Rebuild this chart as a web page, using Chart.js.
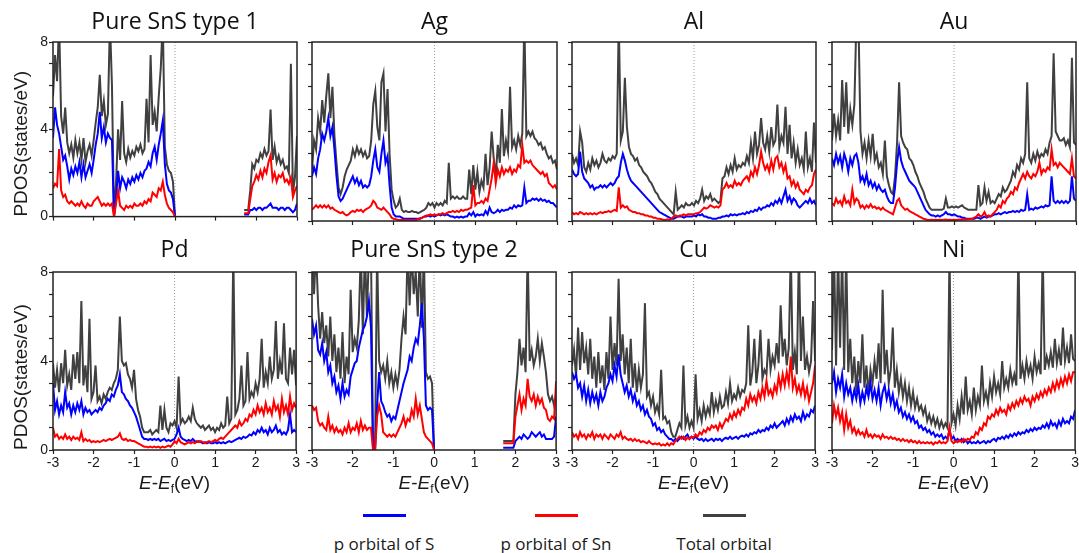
<!DOCTYPE html>
<html>
<head>
<meta charset="utf-8">
<script src="https://cdn.jsdelivr.net/npm/chart.js@4.4.0/dist/chart.umd.min.js"></script>
<style>
  body { margin: 0; width: 1079px; height: 553px; overflow: hidden; background: #fff; position: relative; }
  canvas { position: absolute; }
  .key { position: absolute; top: 505px; width: 140px; text-align: center; }
  .swatch { display: block; width: 43px; height: 3px; margin: 9px auto 0; }
  .lbl { display: block; margin-top: 17px; font: 17px/20px "Open Sans", sans-serif; color: #1a1a1a; white-space: nowrap; }
</style>
</head>
<body>
<div id="legend"></div>
<script>
// energy grid E-Ef (eV), shared by all panels
const energy = [
  -3,-2.95,-2.9,-2.85,-2.8,-2.75,-2.7,-2.65,-2.6,-2.55,
  -2.5,-2.45,-2.4,-2.35,-2.3,-2.25,-2.2,-2.15,-2.1,-2.05,
  -2,-1.95,-1.9,-1.85,-1.8,-1.75,-1.7,-1.65,-1.6,-1.55,
  -1.5,-1.45,-1.4,-1.35,-1.3,-1.25,-1.2,-1.15,-1.1,-1.05,
  -1,-0.95,-0.9,-0.85,-0.8,-0.75,-0.7,-0.65,-0.6,-0.55,
  -0.5,-0.45,-0.4,-0.35,-0.3,-0.25,-0.2,-0.15,-0.1,-0.05,
  0,0.05,0.1,0.15,0.2,0.25,0.3,0.35,0.4,0.45,
  0.5,0.55,0.6,0.65,0.7,0.75,0.8,0.85,0.9,0.95,
  1,1.05,1.1,1.15,1.2,1.25,1.3,1.35,1.4,1.45,
  1.5,1.55,1.6,1.65,1.7,1.75,1.8,1.85,1.9,1.95,
  2,2.05,2.1,2.15,2.2,2.25,2.3,2.35,2.4,2.45,
  2.5,2.55,2.6,2.65,2.7,2.75,2.8,2.85,2.9,2.95,
  3
];
const xTicks = [-3, -2, -1, 0, 1, 2, 3];
const yTicks = [0, 4, 8];
const panelNames = ['Pure SnS type 1', 'Ag', 'Al', 'Au', 'Pd', 'Pure SnS type 2', 'Cu', 'Ni'];
const seriesNames = ['p orbital of S', 'p orbital of Sn', 'Total orbital'];
const seriesColors = ['#0000ff', '#ff0000', '#404040'];

// ---- Pure SnS type 1 ----
const sSnS1 = [
  3.6,5.0,4.2,3.8,3.2,2.6,2.8,2.3,1.7,2.2,
  1.9,2.3,2.0,2.5,1.8,2.4,1.8,2.1,2.4,2.0,
  2.6,3.3,3.8,4.8,3.6,4.1,3.4,3.8,3.6,3.5,
  0,0.8,2.1,1.3,1.8,1.6,1.3,1.7,1.5,1.8,
  1.6,1.9,1.7,2.0,1.8,2.1,2.2,2.5,2.3,2.9,
  3.2,2.6,3.3,3.8,4.4,2.4,1.5,1.2,1.1,0.8,
  0,null,null,null,null,null,null,null,null,null,
  null,null,null,null,null,null,null,null,null,null,
  null,null,null,null,null,null,null,null,null,null,
  null,null,null,null,0.1,0.1,0.1,0.3,0.3,0.4,
  0.3,0.4,0.4,0.3,0.4,0.4,0.5,0.6,0.4,0.4,
  0.4,0.3,0.4,0.4,0.3,0.4,0.4,0.3,0.2,0.3,
  0.6
];
const snSnS1 = [
  1.3,1.5,1.4,3.1,1.2,0.9,1.0,0.7,0.6,0.7,
  0.6,0.5,0.6,0.5,0.7,0.5,0.4,0.6,0.5,0.5,
  0.7,0.8,0.9,0.7,0.5,0.6,0.5,0.6,0.5,0.6,
  0,0.6,1.2,0.5,0.4,0.3,0.5,0.4,0.5,0.4,
  0.6,0.5,0.5,0.6,0.5,0.7,0.6,0.8,0.7,1.1,
  1.0,0.9,1.3,1.2,1.6,1.0,0.6,0.4,0.3,0.2,
  0,null,null,null,null,null,null,null,null,null,
  null,null,null,null,null,null,null,null,null,null,
  null,null,null,null,null,null,null,null,null,null,
  null,null,null,null,0.15,0.15,0.15,0.8,1.4,1.6,
  1.9,1.7,2.1,1.8,2.2,2.0,2.5,2.8,1.7,2.0,
  1.6,1.9,1.8,2.0,1.6,1.7,1.5,1.8,0.9,1.2,
  1.4
];
const totSnS1 = [
  5.5,7.4,6.2,9,4.6,3.8,5.0,3.4,2.9,3.3,
  2.7,3.5,2.9,3.4,2.6,3.6,2.5,3.0,3.3,2.8,
  3.5,4.3,5.0,6.5,4.6,5.3,4.2,4.7,9,6.0,
  0,1.5,4.0,2.6,5.3,2.9,2.5,3.1,2.7,3.0,
  2.8,3.2,3.0,3.3,2.9,3.1,5.4,3.4,7.4,4.2,
  4.8,3.9,5.5,6.8,9,3.2,2.4,2.1,2.0,1.6,
  0,null,null,null,null,null,null,null,null,null,
  null,null,null,null,null,null,null,null,null,null,
  null,null,null,null,null,null,null,null,null,null,
  null,null,null,null,0.3,0.3,0.3,1.2,2.4,2.2,
  2.6,2.5,2.9,2.7,3.1,2.8,3.0,4.9,2.6,3.2,
  2.5,2.8,2.4,2.6,2.2,2.3,2.0,7.0,1.1,1.8,
  3.7
];

// ---- Ag ----
const sAg = [
  2.0,2.4,2.1,2.8,3.2,3.9,3.6,4.0,4.6,3.8,
  4.2,3.2,2.0,1.1,0.9,1.0,1.2,1.4,1.6,1.8,
  2.0,1.7,1.9,1.6,1.8,1.5,1.6,1.5,1.6,2.0,
  2.7,3.2,2.4,2.2,3.0,3.6,2.6,2.9,1.6,0.6,
  0.3,0.2,0.2,0.2,0.15,0.1,0.1,0.1,0.1,0.1,
  0.1,0.1,0.1,0.12,0.15,0.2,0.2,0.25,0.2,0.25,
  0.2,0.25,0.3,0.25,0.3,0.25,0.3,0.25,0.2,0.2,
  0.15,0.2,0.15,0.2,0.15,0.2,0.2,0.35,0.25,0.4,
  0.2,0.3,0.25,0.3,0.25,0.45,0.3,0.6,0.4,0.35,
  0.4,0.5,0.4,0.5,0.45,0.5,0.5,0.6,0.55,0.7,
  0.6,0.7,0.65,0.7,1.5,0.8,0.9,0.9,1.0,0.95,
  1.0,0.9,1.0,0.9,0.95,0.85,0.9,0.8,0.8,0.7,
  0.6
];
const snAg = [
  0.5,0.6,0.7,0.6,0.7,0.6,0.7,0.6,0.7,0.55,
  0.6,0.5,0.45,0.4,0.35,0.4,0.3,0.25,0.3,0.4,
  0.45,0.4,0.5,0.45,0.5,0.4,0.5,0.55,0.6,0.7,
  0.9,0.8,0.6,0.55,0.5,0.6,0.5,0.4,0.3,0.15,
  0.1,0.08,0.06,0.05,0.05,0.05,0.05,0.05,0.05,0.05,
  0.05,0.05,0.08,0.1,0.15,0.2,0.25,0.25,0.3,0.25,
  0.3,0.25,0.3,0.3,0.35,0.3,0.35,0.4,0.4,0.45,
  0.4,0.45,0.4,0.5,0.45,0.5,0.5,0.55,0.6,1.6,
  0.7,0.8,0.8,0.9,0.8,1.0,0.9,1.4,1.9,2.6,
  1.7,2.3,2.0,2.4,2.1,2.3,2.2,2.4,2.1,2.3,
  2.2,2.5,2.4,3.4,2.6,2.7,2.6,2.7,2.5,2.4,
  2.3,2.2,2.1,2.2,2.0,2.1,1.7,1.6,1.5,1.6,
  1.4
];
const totAg = [
  2.3,3.6,3.2,4.6,4.0,5.4,4.4,5.6,6.6,4.6,
  6.0,3.8,2.6,1.5,1.2,1.5,2.0,2.3,2.5,2.7,
  3.2,2.9,3.3,3.0,3.2,2.9,3.1,2.8,2.9,3.6,
  5.2,5.8,4.2,3.6,6.2,6.6,4.0,5.9,3.0,1.4,
  0.9,0.6,0.7,1.0,0.5,0.4,0.45,0.4,0.4,0.45,
  0.4,0.4,0.35,0.4,0.45,0.5,0.6,0.8,0.7,0.8,
  0.6,0.8,0.7,0.8,0.7,0.9,0.8,2.6,1.0,1.1,
  1.0,1.1,1.0,1.0,1.1,1.0,1.0,2.3,1.2,2.5,
  1.4,2.2,1.3,1.8,1.5,3.0,1.6,2.4,4.0,2.8,
  2.0,3.4,2.6,5.0,2.9,3.6,3.1,6.0,3.3,3.6,
  3.2,3.8,3.4,3.9,9,3.8,4.0,3.8,4.0,3.7,
  3.6,3.4,3.5,3.2,3.3,3.0,2.8,2.9,2.6,2.7,
  2.3
];

// ---- Al ----
const sAl = [
  2.3,2.1,2.0,2.1,3.1,2.2,1.9,1.8,1.7,1.5,
  1.6,1.4,1.5,1.5,1.6,1.5,1.6,1.5,1.6,1.7,
  1.6,1.7,1.9,2.0,2.6,3.0,2.7,2.3,2.0,1.8,
  1.7,1.6,1.5,1.4,1.3,1.2,1.1,1.0,0.9,0.8,
  0.7,0.6,0.5,0.4,0.35,0.3,0.25,0.2,0.15,0.1,
  0.1,0.15,0.2,0.2,0.2,0.15,0.2,0.2,0.2,0.2,
  0.25,0.2,0.3,0.25,0.3,0.2,0.2,0.15,0.15,0.1,
  0.1,0.1,0.15,0.15,0.2,0.2,0.25,0.2,0.3,0.25,
  0.3,0.25,0.3,0.3,0.35,0.3,0.4,0.35,0.45,0.4,
  0.5,0.45,0.6,0.5,0.6,0.6,0.7,0.65,0.8,0.7,
  0.9,0.8,1.0,0.8,1.1,1.4,0.9,1.1,0.8,1.0,
  0.9,0.7,0.6,0.7,0.8,0.9,0.8,1.0,0.8,0.9,
  0.7
];
const snAl = [
  0.4,0.3,0.35,0.3,0.4,0.35,0.3,0.35,0.3,0.35,
  0.3,0.35,0.3,0.35,0.4,0.35,0.4,0.4,0.45,0.4,
  0.45,0.5,0.45,1.5,0.6,0.7,0.6,0.65,0.5,0.45,
  0.4,0.4,0.35,0.35,0.3,0.3,0.25,0.25,0.2,0.2,
  0.15,0.15,0.1,0.1,0.08,0.05,0.05,0.08,0.05,0.1,
  0.2,0.25,0.2,0.25,0.25,0.3,0.25,0.3,0.3,0.3,
  0.3,0.35,0.35,0.4,0.5,0.6,0.55,0.6,0.7,0.65,
  0.6,0.65,0.6,0.7,1.4,1.5,1.7,1.5,1.6,1.5,
  1.8,1.6,1.7,1.6,1.8,1.9,2.0,1.8,2.2,2.0,
  2.4,2.1,2.5,3.1,2.6,2.3,2.5,2.2,2.7,2.3,
  2.8,2.9,2.4,2.6,2.2,2.5,1.9,2.0,1.6,1.8,
  1.5,1.7,1.4,1.3,1.2,1.4,1.3,1.5,1.6,2.1,
  2.3
];
const totAl = [
  3.0,2.6,2.8,2.5,4.0,3.5,2.4,2.2,2.6,2.3,
  2.8,2.5,2.7,2.4,2.6,3.0,2.7,2.6,2.8,2.7,
  2.9,2.8,3.0,9,3.6,4.0,6.4,4.2,3.3,3.0,
  2.9,2.7,2.8,2.5,2.4,2.2,2.1,2.0,1.8,1.7,
  1.5,1.3,1.2,1.0,0.9,0.8,0.7,0.6,0.5,0.4,
  0.3,1.3,0.5,0.6,0.7,0.6,0.8,0.7,0.7,0.8,
  0.7,0.9,0.8,1.0,1.4,0.9,1.1,1.0,1.2,0.9,
  1.0,0.9,0.8,0.9,1.9,2.0,2.4,2.1,2.5,2.2,
  2.8,2.3,2.5,2.4,2.6,2.5,2.9,2.6,3.5,2.8,
  4.0,3.0,3.4,4.6,3.5,3.2,3.8,3.1,4.2,3.4,
  3.6,5.2,3.3,3.8,3.5,5.1,3.0,4.3,2.8,3.5,
  2.6,3.2,2.5,2.8,2.3,4.0,2.4,2.8,2.2,4.4,
  2.6
];

// ---- Au ----
const sAu = [
  2.8,2.5,3.0,2.6,2.9,2.4,3.0,2.7,2.2,2.8,
  2.5,2.9,3.0,2.6,1.8,2.0,1.7,2.1,1.6,1.8,
  1.5,1.7,1.4,1.6,1.4,1.3,1.4,1.1,0.9,0.8,
  0.8,1.5,2.6,3.3,2.7,2.4,2.2,2.0,1.8,1.7,
  1.6,1.5,1.3,1.1,0.9,0.7,0.5,0.4,0.3,0.25,
  0.25,0.2,0.25,0.2,0.25,0.3,0.4,0.3,0.3,0.25,
  0.3,0.25,0.2,0.2,0.15,0.15,0.1,0.1,0.1,0.1,
  0.1,0.15,0.15,0.1,0.15,0.2,0.15,0.2,0.2,0.25,
  0.3,0.3,0.35,0.3,0.35,0.4,0.35,0.4,0.4,0.45,
  0.4,0.45,0.4,0.5,0.45,0.5,1.2,0.5,0.55,0.5,
  0.6,0.55,0.6,0.65,0.6,0.7,0.65,0.7,2.0,0.9,
  0.8,0.9,0.8,0.9,0.8,0.9,0.8,0.9,2.0,1.0,
  0.9
];
const snAu = [
  0.8,0.7,1.0,0.8,0.9,0.7,1.1,0.8,0.9,0.7,
  1.4,0.8,1.0,0.9,0.6,0.7,0.55,0.7,0.6,0.75,
  0.6,0.65,0.55,0.6,0.5,0.6,0.5,0.45,0.4,0.35,
  0.3,0.6,0.9,1.0,0.7,0.6,0.5,0.55,0.45,0.4,
  0.35,0.3,0.25,0.2,0.15,0.1,0.08,0.05,0.05,0.06,
  0.05,0.06,0.05,0.06,0.05,0.06,0.07,0.05,0.06,0.05,
  0.06,0.05,0.06,0.07,0.06,0.08,0.07,0.08,0.09,0.1,
  0.15,0.2,0.3,0.2,0.25,0.4,0.2,0.25,0.2,0.3,
  0.4,0.5,0.7,0.6,0.9,0.8,1.0,1.1,1.3,1.2,
  1.5,1.4,1.7,1.9,2.1,1.9,2.2,2.0,1.9,2.1,
  2.0,2.2,2.6,2.1,2.3,2.2,2.4,2.3,3.2,2.5,
  2.6,2.4,2.6,2.5,2.4,2.3,2.2,2.1,2.8,2.0,
  1.9
];
const totAu = [
  3.6,4.8,3.8,4.5,3.6,6.3,4.2,6.2,3.9,5.0,
  4.3,5.2,9,9,4.0,3.0,3.5,2.8,3.6,2.9,
  3.9,2.7,3.0,2.4,2.6,2.1,3.6,2.0,1.6,1.3,
  1.2,2.0,3.5,6.2,3.8,3.5,3.3,3.2,2.8,2.7,
  2.5,2.2,2.0,1.7,1.5,1.3,1.0,0.8,0.6,0.5,
  0.5,0.5,0.5,0.5,0.5,0.55,1.0,0.6,0.6,0.65,
  0.6,0.65,0.6,0.65,0.7,0.6,0.55,0.5,0.5,0.5,
  0.5,0.5,1.6,0.7,0.8,1.5,0.9,1.3,0.8,0.9,
  0.8,1.0,1.2,1.1,1.5,1.3,1.4,1.6,1.8,2.2,
  2.0,2.5,2.3,2.8,2.6,3.0,6.2,2.8,2.6,3.0,
  2.7,3.1,2.8,3.0,2.9,3.2,3.0,3.5,3.8,7.5,
  4.0,3.8,3.6,3.6,3.7,3.4,3.6,3.3,7.3,3.5,
  3.4
];

// ---- Pd ----
const sPd = [
  3.0,1.8,2.2,1.6,2.0,1.7,2.6,1.9,2.1,1.6,
  2.0,1.7,2.1,1.8,2.2,1.6,1.9,1.7,1.8,1.6,
  1.7,1.8,1.7,1.9,1.8,2.0,2.1,2.3,2.2,2.5,
  2.4,2.7,2.9,3.4,2.6,2.5,2.3,2.2,2.0,1.9,
  1.7,1.5,1.2,0.9,0.6,0.5,0.5,0.45,0.5,0.45,
  0.5,0.45,0.5,0.4,0.45,0.5,0.4,0.45,0.4,0.45,
  0.5,0.7,1.0,0.6,0.5,0.45,0.4,0.45,0.4,0.5,
  0.4,0.35,0.4,0.35,0.3,0.35,0.3,0.35,0.3,0.3,
  0.35,0.3,0.35,0.3,0.35,0.3,0.35,0.4,0.35,0.4,
  0.45,0.5,0.55,0.5,0.6,0.55,0.6,0.7,0.65,0.8,
  0.7,0.9,0.8,1.0,0.8,0.9,0.7,1.0,0.8,0.9,
  1.1,0.8,0.9,0.7,0.8,0.7,0.9,1.6,0.8,0.9,
  0.8
];
const snPd = [
  1.0,0.6,0.7,0.5,0.6,0.5,0.7,0.5,0.6,0.45,
  0.6,0.5,0.55,0.45,0.8,0.4,0.5,0.4,0.45,0.35,
  0.4,0.35,0.4,0.35,0.4,0.45,0.4,0.45,0.5,0.45,
  0.5,0.55,0.6,0.75,0.5,0.45,0.5,0.4,0.45,0.4,
  0.4,0.35,0.3,0.25,0.2,0.15,0.15,0.12,0.15,0.12,
  0.15,0.12,0.15,0.1,0.15,0.12,0.15,0.2,0.15,0.25,
  0.4,0.3,0.5,0.35,0.3,0.25,0.3,0.35,0.3,0.35,
  0.3,0.4,0.35,0.4,0.35,0.3,0.35,0.4,0.35,0.4,
  0.45,0.4,0.5,0.55,0.5,0.6,0.7,0.8,0.9,1.0,
  1.1,1.0,1.3,1.1,1.2,1.4,1.3,1.6,1.5,1.8,
  1.6,2.0,1.7,1.9,1.6,2.1,1.7,1.9,1.6,2.2,
  1.8,2.0,1.5,2.3,1.7,2.0,1.6,2.4,1.8,2.1,
  1.9
];
const totPd = [
  3.9,2.8,3.6,2.6,3.9,3.0,4.5,2.9,3.4,2.7,
  4.3,3.2,4.4,3.0,6.7,2.9,3.8,2.6,5.9,2.3,
  2.6,3.8,2.2,2.4,2.1,2.5,2.3,2.6,2.8,2.7,
  3.0,3.2,3.6,6.0,4.0,3.8,3.9,3.4,3.2,2.8,
  3.6,2.3,1.8,1.5,1.0,0.8,0.8,0.8,0.9,0.7,
  0.8,0.9,0.8,2.0,0.9,1.8,1.0,0.8,1.2,1.1,
  1.3,1.0,3.3,1.2,1.4,1.2,1.3,1.5,1.3,1.9,
  1.4,1.2,1.1,1.0,1.1,0.9,1.0,1.1,0.9,1.0,
  0.8,1.0,0.9,1.2,1.0,1.1,2.4,1.2,1.4,9,
  1.6,1.8,2.3,3.8,2.0,2.2,4.4,2.3,2.6,2.4,
  3.0,2.6,3.2,5.0,2.8,3.5,3.0,4.2,3.2,3.6,
  5.8,3.2,4.0,3.4,5.7,3.2,3.0,4.6,3.4,4.5,
  2.9
];

// ---- Pure SnS type 2 ----
const sSnS2 = [
  5.9,5.2,5.6,4.5,4.3,4.8,4.0,4.4,3.5,3.8,
  3.0,3.3,2.6,2.9,2.3,3.0,2.4,2.7,2.5,3.3,
  3.6,3.9,4.0,4.6,5.0,5.4,5.6,6.0,6.7,5.5,
  0,0,2.0,3.5,2.2,2.0,1.7,1.5,1.6,1.3,
  1.5,1.4,1.8,2.2,2.6,3.0,3.3,3.6,4.2,4.0,
  4.6,5.0,4.8,5.6,6.6,5.0,2.0,1.8,1.9,1.8,
  0,null,null,null,null,null,null,null,null,null,
  null,null,null,null,null,null,null,null,null,null,
  null,null,null,null,null,null,null,null,null,null,
  null,null,null,null,0.1,0.1,0.1,0.1,0.1,0.1,
  0.4,0.5,0.6,0.5,0.7,0.6,0.5,0.6,0.8,0.7,
  0.6,0.7,0.8,0.6,0.7,0.5,0.5,0.5,0.5,0.6,
  1.5
];
const snSnS2 = [
  2.0,1.8,1.9,1.3,1.1,1.2,1.0,0.9,1.5,0.9,
  1.1,0.8,1.0,0.8,0.9,0.7,1.0,0.8,1.2,0.8,
  1.0,0.9,1.2,0.8,1.3,0.9,1.1,0.9,1.0,1.0,
  0,0,1.5,2.0,1.6,0.8,0.7,0.6,0.7,0.6,
  0.7,0.6,0.8,1.0,1.2,1.5,1.1,1.4,1.3,1.8,
  1.5,2.3,1.6,2.0,1.4,0.8,0.6,0.5,0.4,0.3,
  0,null,null,null,null,null,null,null,null,null,
  null,null,null,null,null,null,null,null,null,null,
  null,null,null,null,null,null,null,null,null,null,
  null,null,null,null,0.3,0.3,0.3,0.3,0.3,0.3,
  1.5,2.0,2.5,1.8,2.3,2.0,3.2,2.4,2.2,2.5,
  2.0,2.4,2.1,2.3,1.9,1.8,1.4,1.3,1.5,1.4,
  3.1
];
const totSnS2 = [
  9,7.0,9,6.5,5.0,6.2,4.8,5.6,4.2,6.0,
  4.0,5.2,3.5,4.6,3.2,5.3,3.0,4.2,3.4,7.2,
  4.4,5.0,4.6,5.8,9,5.2,9,6.0,9,9,
  0,0,9,4.0,3.5,3.8,3.2,4.0,3.0,3.5,
  2.8,3.4,2.9,3.6,5.0,6.0,5.2,9,6.5,9,
  7.0,8.0,6.0,9,5.5,9,3.5,3.2,3.3,3.0,
  0,null,null,null,null,null,null,null,null,null,
  null,null,null,null,null,null,null,null,null,null,
  null,null,null,null,null,null,null,null,null,null,
  null,null,null,null,0.4,0.4,0.4,0.4,0.4,0.4,
  2.5,3.5,5.0,3.8,4.6,3.5,9,4.0,4.5,3.8,
  4.2,5.0,4.0,4.8,4.2,3.5,2.5,2.2,2.4,2.0,
  2.5
];

// ---- Cu ----
const sCu = [
  3.5,3.2,3.4,2.8,3.0,2.4,2.9,2.2,2.7,2.1,
  2.6,2.2,2.5,2.0,2.6,2.2,2.4,2.8,3.0,3.4,
  3.1,3.8,3.3,4.3,3.4,3.0,2.6,2.9,2.4,2.7,
  2.2,2.5,2.0,2.2,1.8,2.0,1.6,1.8,1.5,1.4,
  1.1,1.2,0.9,1.0,0.8,0.9,0.7,0.6,0.5,0.5,
  0.4,0.5,0.4,0.5,0.6,0.5,0.6,0.7,0.5,0.6,
  0.5,0.6,0.5,0.45,0.5,0.4,0.5,0.4,0.45,0.5,
  0.4,0.5,0.45,0.5,0.4,0.5,0.55,0.5,0.6,0.5,
  0.55,0.6,0.5,0.6,0.65,0.6,0.7,0.6,0.75,0.7,
  0.8,0.75,0.9,0.8,0.9,0.85,1.0,0.9,1.1,1.0,
  1.2,1.0,1.1,1.2,1.3,1.1,1.4,1.2,1.5,1.3,
  1.6,1.4,1.5,1.3,1.7,1.4,1.6,1.5,1.8,1.7,
  2.0
];
const snCu = [
  0.8,0.6,0.7,0.5,0.8,0.6,0.7,0.5,0.7,0.6,
  0.8,0.5,0.7,0.6,0.7,0.5,0.7,0.6,0.5,0.7,
  0.6,0.5,0.7,0.6,0.8,0.5,0.6,0.5,0.45,0.5,
  0.4,0.5,0.4,0.45,0.35,0.4,0.35,0.3,0.4,0.3,
  0.25,0.3,0.25,0.3,0.2,0.25,0.2,0.3,0.2,0.3,
  0.25,0.4,0.5,0.6,0.5,0.6,0.45,0.55,0.5,0.6,
  0.55,0.7,0.6,0.8,0.7,0.9,0.8,1.0,0.9,1.1,
  1.0,1.1,0.9,1.2,1.0,1.2,1.4,1.3,1.6,1.4,
  1.7,1.5,1.8,1.6,1.9,1.8,2.3,2.0,2.5,2.2,
  2.4,2.1,2.6,2.3,2.8,2.4,3.1,2.5,2.7,2.4,
  2.9,2.6,3.3,2.8,3.4,2.9,3.5,3.0,4.2,2.8,
  3.2,2.6,2.9,2.5,3.0,2.4,2.8,2.2,2.6,3.0,
  3.8
];
const totCu = [
  3.8,4.5,3.3,5.5,3.6,5.3,3.9,4.6,3.4,5.0,
  3.2,4.2,2.8,4.4,3.0,3.8,2.7,4.4,3.2,6.0,
  3.6,4.8,3.8,7.7,4.0,5.2,3.4,4.6,3.0,5.0,
  2.8,3.9,2.6,3.6,2.8,3.4,6.6,2.4,2.6,2.0,
  2.4,1.7,2.0,1.6,3.6,1.4,1.5,1.2,1.3,0.8,
  0.6,0.6,0.9,1.2,1.0,3.8,1.1,1.5,1.0,1.3,
  1.0,3.4,1.4,1.8,1.3,2.0,1.5,1.9,1.6,2.6,
  1.7,2.2,1.8,2.4,1.9,2.0,2.6,2.1,3.0,2.2,
  2.5,2.3,2.8,2.4,2.7,2.6,3.0,5.6,2.9,3.5,
  5.0,3.0,3.8,5.4,3.2,3.6,3.4,5.0,3.6,4.2,
  3.8,4.8,3.9,6.5,4.2,5.0,3.8,4.6,9,3.6,
  4.4,3.4,9,4.0,6.0,3.6,4.2,3.5,4.0,6.7,
  4.0
];

// ---- Ni ----
const sNi = [
  3.0,3.5,2.6,3.2,2.8,3.4,2.4,3.0,2.5,2.8,
  2.2,2.7,2.3,2.9,2.1,2.6,2.2,2.8,2.4,3.0,
  2.3,2.7,2.2,2.8,2.0,2.6,2.9,2.3,2.7,2.1,
  2.5,1.9,2.2,1.7,1.9,1.5,1.7,1.4,1.6,1.3,
  1.5,1.2,1.3,1.0,1.1,0.9,1.0,0.8,0.9,0.7,
  0.8,0.6,0.7,0.6,0.7,0.5,0.6,0.5,0.9,0.5,
  0.6,0.4,0.5,0.4,0.5,0.35,0.45,0.3,0.4,0.3,
  0.35,0.3,0.4,0.3,0.35,0.4,0.3,0.4,0.35,0.45,
  0.5,0.4,0.55,0.5,0.6,0.5,0.65,0.55,0.7,0.6,
  0.75,0.65,0.8,0.7,0.8,0.75,0.9,0.8,0.95,0.85,
  1.0,0.9,1.0,0.95,1.1,1.0,1.2,1.0,1.3,1.1,
  1.2,1.0,1.3,1.1,1.4,1.2,1.3,1.2,1.5,1.4,
  1.8
];
const snNi = [
  1.2,2.0,1.5,1.9,1.3,1.7,0.9,1.6,1.0,1.3,
  0.8,1.0,0.7,0.9,0.7,0.8,0.6,0.9,0.6,0.7,
  0.55,0.7,0.6,0.65,0.5,0.7,0.55,0.6,0.5,0.6,
  0.5,0.55,0.45,0.5,0.4,0.5,0.4,0.45,0.35,0.45,
  0.35,0.4,0.3,0.4,0.3,0.35,0.3,0.35,0.3,0.35,
  0.25,0.35,0.3,0.4,0.3,0.35,0.3,0.4,1.0,0.4,
  0.3,0.4,0.35,0.45,0.35,0.5,0.4,0.5,0.45,0.6,
  0.55,0.8,0.7,1.0,0.9,1.2,1.1,1.5,1.4,1.6,
  1.5,1.8,1.6,1.9,1.7,1.8,1.6,2.0,1.8,2.1,
  1.9,2.2,2.0,2.3,2.1,2.4,2.2,2.3,2.0,2.4,
  2.2,2.5,2.3,2.6,2.4,2.7,2.5,2.8,2.6,3.0,
  2.7,3.1,2.8,3.2,2.9,3.3,3.0,3.4,3.1,3.5,
  3.5
];
const totNi = [
  4.5,9,3.8,9,4.6,9,3.6,9,3.5,5.0,
  3.0,4.2,2.6,4.0,3.0,5.2,2.8,3.8,2.5,3.6,
  3.0,4.0,3.2,4.8,3.0,7.2,3.4,4.5,3.0,3.6,
  5.5,2.8,3.6,2.6,3.2,2.4,3.0,2.2,2.8,2.0,
  2.6,1.9,2.3,1.8,2.0,1.6,1.9,1.3,1.6,1.2,
  1.5,1.1,1.4,1.0,1.3,1.0,1.2,1.0,9,1.2,
  1.6,1.1,2.0,1.4,2.4,1.6,3.3,1.8,2.2,1.6,
  2.8,1.8,2.4,2.0,3.8,2.2,2.6,2.1,3.0,2.4,
  3.3,2.6,3.0,2.5,4.0,2.8,3.2,2.8,3.6,3.0,
  3.4,2.9,9,3.2,3.8,3.2,4.0,3.4,3.8,3.2,
  4.2,3.5,3.9,3.4,9,3.6,4.2,3.8,4.4,3.7,
  5.0,3.9,4.5,3.8,5.5,4.0,4.6,3.9,5.2,4.1,
  4.0
];

const panelSeries = [
  [sSnS1, snSnS1, totSnS1], [sAg, snAg, totAg], [sAl, snAl, totAl], [sAu, snAu, totAu],
  [sPd, snPd, totPd], [sSnS2, snSnS2, totSnS2], [sCu, snCu, totCu], [sNi, snNi, totNi]
];

// page layout (plot boxes in page pixels)
const colLeft = [53, 312, 572, 832];
const colRight = [297, 557, 816, 1076];
const rowTop = [42, 272];
const rowBottom = [221, 450];
const legendCenters = [384, 556, 724];

Chart.defaults.font.family = '"Liberation Sans", Arial, sans-serif';
Chart.defaults.color = '#1a1a1a';

// box around each plot + dotted line at the Fermi level
const framePlugin = {
  id: 'frame',
  beforeDatasetsDraw(chart) {
    const {ctx, chartArea: a, scales: {x}} = chart;
    const x0 = x.getPixelForValue(0);
    ctx.save();
    ctx.strokeStyle = '#9a9a9a';
    ctx.lineWidth = 1;
    ctx.setLineDash([1, 2]);
    ctx.beginPath();
    ctx.moveTo(x0, a.top);
    ctx.lineTo(x0, a.bottom);
    ctx.stroke();
    ctx.restore();
  },
  afterDatasetsDraw(chart) {
    const {ctx, chartArea: a} = chart;
    ctx.save();
    ctx.strokeStyle = '#222';
    ctx.lineWidth = 1.5;
    ctx.strokeRect(a.left, a.top, a.right - a.left, a.bottom - a.top);
    ctx.restore();
  }
};

// x title with italic E and subscript f
const energyTitlePlugin = {
  id: 'energyTitle',
  afterDraw(chart, args, opts) {
    if (!opts.show) return;
    const {ctx, chartArea: a} = chart;
    const fam = '"Liberation Sans", Arial, sans-serif';
    const parts = [
      ['E', 'italic 19px ' + fam, 0],
      ['-', '19px ' + fam, 0],
      ['E', 'italic 19px ' + fam, 0],
      ['f', '12px ' + fam, 4],
      ['(eV)', '19px ' + fam, 0]
    ];
    let total = 0;
    parts.forEach(p => { ctx.font = p[1]; total += ctx.measureText(p[0]).width; });
    let x = (a.left + a.right) / 2 - total / 2;
    const y = a.bottom + 39;
    ctx.save();
    ctx.fillStyle = '#1a1a1a';
    ctx.textBaseline = 'alphabetic';
    parts.forEach(p => {
      ctx.font = p[1];
      ctx.fillText(p[0], x, y + p[2]);
      x += ctx.measureText(p[0]).width;
    });
    ctx.restore();
  }
};

function makePanel(k) {
  const row = Math.floor(k / 4), col = k % 4;
  const yW = col === 0 ? 53 : 12;
  const titleH = 42;
  const xH = row === 0 ? 5 : 45;
  const padR = 4;
  const w = yW + (colRight[col] - colLeft[col]) + padR;
  const h = titleH + (rowBottom[row] - rowTop[row]) + xH;
  const canvas = document.createElement('canvas');
  canvas.width = w;
  canvas.height = h;
  canvas.style.left = (colLeft[col] - yW) + 'px';
  canvas.style.top = (rowTop[row] - titleH) + 'px';
  document.body.appendChild(canvas);

  const [s, sn, tot] = panelSeries[k];
  const pts = arr => energy.map((e, i) => ({x: e, y: arr[i]}));
  const ds = (label, arr, color, order) => ({
    label, data: pts(arr), borderColor: color, borderWidth: 2,
    pointRadius: 0, tension: 0, spanGaps: false, order
  });

  new Chart(canvas, {
    type: 'line',
    data: {
      datasets: [
        ds(seriesNames[2], tot, seriesColors[2], 3),
        ds(seriesNames[0], s, seriesColors[0], 2),
        ds(seriesNames[1], sn, seriesColors[1], 1)
      ]
    },
    options: {
      responsive: false,
      animation: false,
      events: [],
      layout: {padding: {left: 0, right: padR, top: 0, bottom: 0}},
      plugins: {
        legend: {display: false},
        tooltip: {enabled: false},
        title: {
          display: true, fullSize: false, text: panelNames[k], color: '#111',
          font: {family: '"Open Sans", sans-serif', size: 23, weight: 'normal', lineHeight: 1.2},
          padding: row === 0 ? {top: 9, bottom: 5.4} : {top: 7, bottom: 7.4}
        },
        energyTitle: {show: row === 1}
      },
      scales: {
        x: {
          type: 'linear', min: -3, max: 3,
          afterBuildTicks: sc => { sc.ticks = xTicks.map(v => ({value: v})); },
          afterFit: sc => { sc.height = xH; },
          ticks: {display: row === 1, autoSkip: false, maxRotation: 0, padding: 1,
                  font: {size: 14}, color: '#1a1a1a'},
          grid: {drawOnChartArea: false, drawTicks: true, tickLength: 4, tickColor: '#222', tickWidth: 1.2},
          border: {display: false}
        },
        y: {
          min: 0, max: 8,
          afterFit: sc => { sc.width = yW; },
          ticks: {display: col === 0, stepSize: 1, padding: 1, font: {size: 14}, color: '#1a1a1a',
                  callback: v => yTicks.includes(v) ? String(v) : ''},
          grid: {drawOnChartArea: false, drawTicks: true, tickLength: 4, tickColor: '#222', tickWidth: 1.2},
          border: {display: false},
          title: {display: col === 0, text: 'PDOS(states/eV)', align: 'start', color: '#1a1a1a',
                  font: {size: 19}, padding: {top: 10, bottom: 0}}
        }
      }
    },
    plugins: [framePlugin, energyTitlePlugin]
  });
}

panelNames.forEach((name, k) => makePanel(k));

// legend under the panels
const legend = document.getElementById('legend');
seriesNames.forEach((name, i) => {
  const item = document.createElement('div');
  item.className = 'key';
  item.style.left = (legendCenters[i] - 70) + 'px';
  item.innerHTML = '<span class="swatch" style="background:' + seriesColors[i] + '"></span>' +
                   '<span class="lbl">' + name + '</span>';
  legend.appendChild(item);
});
</script>
</body>
</html>
